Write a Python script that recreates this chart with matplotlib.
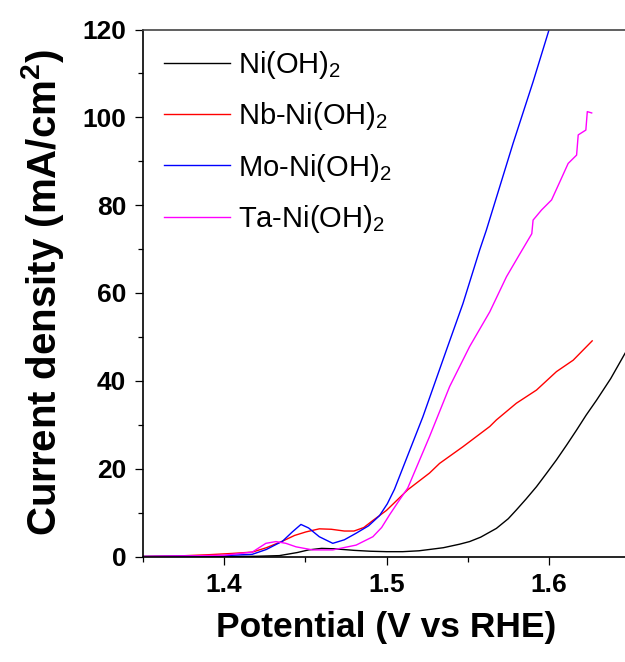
import matplotlib
matplotlib.use("Agg")
import matplotlib.pyplot as plt
from matplotlib.ticker import MultipleLocator

plt.rcParams["font.family"] = ["Liberation Sans", "DejaVu Sans"]
plt.rcParams["mathtext.fontset"] = "custom"
plt.rcParams["mathtext.rm"] = "Liberation Sans"
plt.rcParams["mathtext.it"] = "Liberation Sans:italic"
plt.rcParams["mathtext.bf"] = "Liberation Sans:bold"

# Polarization curves: potential (V vs RHE) and current density (mA/cm^2)
ni_v = [1.35, 1.40, 1.42, 1.434, 1.445, 1.452, 1.46, 1.468, 1.48, 1.49, 1.50, 1.51,
        1.52, 1.5265, 1.535, 1.545, 1.5512, 1.558, 1.5677, 1.575, 1.58, 1.586,
        1.5924, 1.5985, 1.6047, 1.611, 1.6171, 1.623, 1.6294, 1.6381, 1.647, 1.65]
ni_j = [0.0, 0.0, 0.05, 0.2, 0.9, 1.5, 1.85, 1.75, 1.4, 1.2, 1.1, 1.1,
        1.3, 1.6, 2.0, 2.8, 3.4, 4.4, 6.4, 8.6, 10.6, 13.1,
        15.9, 18.9, 22.0, 25.4, 28.8, 32.2, 35.6, 40.5, 46.3, 48.0]

nb_v = [1.35, 1.37, 1.39, 1.405, 1.4173, 1.426, 1.436, 1.4434, 1.4504, 1.4586, 1.466,
        1.474, 1.48, 1.486, 1.4916, 1.50, 1.5131, 1.5265, 1.5327, 1.5471, 1.5636,
        1.5677, 1.58, 1.5924, 1.6047, 1.615, 1.6267]
nb_j = [0.0, 0.1, 0.4, 0.7, 1.0, 2.0, 3.5, 4.8, 5.6, 6.3, 6.2,
        5.8, 5.8, 6.6, 8.2, 10.5, 15.2, 19.0, 21.2, 25.0, 29.6,
        31.1, 34.9, 37.9, 42.1, 44.7, 49.1]

mo_v = [1.35, 1.40, 1.4173, 1.426, 1.436, 1.442, 1.4473, 1.452, 1.4586, 1.4669, 1.474,
        1.4813, 1.489, 1.4957, 1.5005, 1.5049, 1.512, 1.5224, 1.5369, 1.5471, 1.5574,
        1.5615, 1.578, 1.5903, 1.6006]
mo_j = [0.0, 0.2, 0.5, 1.6, 3.5, 5.6, 7.3, 6.5, 4.5, 3.0, 3.8,
        5.3, 7.0, 9.3, 12.0, 15.3, 22.0, 31.8, 47.0, 57.6, 69.8,
        74.3, 94.1, 108.1, 120.5]

ta_v = [1.35, 1.38, 1.40, 1.4173, 1.4257, 1.4319, 1.438, 1.4443, 1.4545, 1.4669, 1.4813,
        1.4916, 1.497, 1.5019, 1.5075, 1.5131, 1.5265, 1.5389, 1.5512, 1.5636, 1.5739,
        1.5815, 1.5895, 1.5903, 1.5955, 1.6017, 1.607, 1.6119, 1.6171, 1.6181, 1.6228,
        1.6237, 1.6264]
ta_j = [0.0, 0.15, 0.3, 1.0, 3.0, 3.4, 3.0, 2.2, 1.5, 1.5, 2.6,
        4.5, 6.6, 9.5, 12.6, 15.6, 27.3, 38.7, 47.8, 55.7, 63.7,
        68.5, 73.5, 76.6, 78.9, 81.2, 85.5, 89.5, 91.4, 96.0, 97.1,
        101.3, 101.0]

series = [
    (ni_v, ni_j, "black", "Ni(OH)$_2$"),
    (nb_v, nb_j, "#ff0000", "Nb-Ni(OH)$_2$"),
    (mo_v, mo_j, "#0000ff", "Mo-Ni(OH)$_2$"),
    (ta_v, ta_j, "#ff00ff", "Ta-Ni(OH)$_2$"),
]

fig = plt.figure(figsize=(6.25, 6.62), dpi=100)
ax = fig.add_axes([143 / 625, 105.5 / 662, 487 / 625, 527 / 662])

for v, j, c, lab in series:
    ax.plot(v, j, color=c, lw=1.0, label=lab)

ax.set_xlim(1.35, 1.65)
ax.set_ylim(0, 120)
ax.xaxis.set_minor_locator(MultipleLocator(0.05))
ax.yaxis.set_major_locator(MultipleLocator(20))
ax.yaxis.set_minor_locator(MultipleLocator(10))
ax.set_xticks([1.4, 1.5, 1.6])
ax.set_xticklabels(["1.4", "1.5", "1.6"])

ax.tick_params(which="major", direction="out", length=6, width=0.9,
               labelsize=19, pad=6)
ax.tick_params(which="minor", direction="out", length=3.5, width=0.9)
for lbl in ax.get_xticklabels() + ax.get_yticklabels():
    lbl.set_fontweight("bold")

for s in ["left", "bottom"]:
    ax.spines[s].set_linewidth(1.2)
ax.spines["top"].set_linewidth(1.2)
ax.spines["top"].set_color("#444444")
ax.spines["right"].set_visible(False)

ax.set_xlabel("Potential (V vs RHE)", fontsize=25.5, fontweight="bold", labelpad=10)
ax.set_ylabel("Current density (mA/cm$^{\\mathbf{2}}$)", fontsize=29,
              fontweight="bold", labelpad=12)

leg = ax.legend(loc="upper left", bbox_to_anchor=(0.02, 0.985), frameon=False,
                fontsize=21, handlelength=2.25, handletextpad=0.27,
                labelspacing=0.66, borderaxespad=0)

fig.savefig("out.png", dpi=100)
